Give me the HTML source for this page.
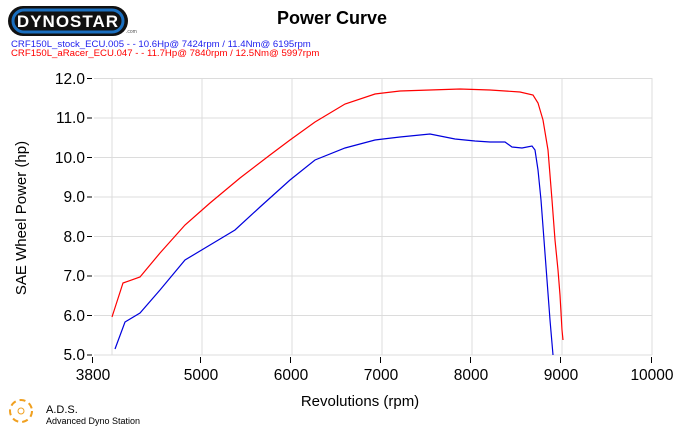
<!DOCTYPE html>
<html><head><style>
body{margin:0;width:685px;height:428px;background:#fff;overflow:hidden;font-family:"Liberation Sans",sans-serif}
</style></head><body>
<svg width="685" height="428" xmlns="http://www.w3.org/2000/svg" font-family="Liberation Sans, sans-serif">
<rect x="8" y="6" width="120" height="30" rx="15" fill="#111"/>
<rect x="13" y="10" width="110" height="22" rx="11" fill="none" stroke="#1a6fc0" stroke-width="3"/>
<text x="68" y="27" font-size="17" font-weight="bold" fill="#fff" text-anchor="middle" letter-spacing="1">DYNOSTAR</text>
<text x="126" y="33" font-size="5" fill="#555">.com</text>
<text x="332" y="24" font-size="18" font-weight="bold" text-anchor="middle" fill="#000">Power Curve</text>
<text x="11" y="47" font-size="9.6" fill="#2222ee">CRF150L_stock_ECU.005 -  - 10.6Hp@ 7424rpm / 11.4Nm@ 6195rpm</text>
<text x="11" y="56" font-size="9.6" fill="#ff0000">CRF150L_aRacer_ECU.047 -  - 11.7Hp@ 7840rpm / 12.5Nm@ 5997rpm</text>
<g stroke="#dcdcdc" stroke-width="1">
<line x1="94" y1="78.5" x2="652" y2="78.5"/><line x1="94" y1="118" x2="652" y2="118"/><line x1="94" y1="157.5" x2="652" y2="157.5"/><line x1="94" y1="197" x2="652" y2="197"/><line x1="94" y1="236.5" x2="652" y2="236.5"/><line x1="94" y1="276" x2="652" y2="276"/><line x1="94" y1="315.5" x2="652" y2="315.5"/><line x1="94" y1="355" x2="652" y2="355"/>
<line x1="112" y1="78" x2="112" y2="355"/><line x1="202" y1="78" x2="202" y2="355"/><line x1="292" y1="78" x2="292" y2="355"/><line x1="382" y1="78" x2="382" y2="355"/><line x1="472" y1="78" x2="472" y2="355"/><line x1="562" y1="78" x2="562" y2="355"/><line x1="652" y1="78" x2="652" y2="355"/>
</g>
<g stroke="#000" stroke-width="1">
<line x1="87" y1="78.5" x2="92" y2="78.5"/><line x1="87" y1="118" x2="92" y2="118"/><line x1="87" y1="157.5" x2="92" y2="157.5"/><line x1="87" y1="197" x2="92" y2="197"/><line x1="87" y1="236.5" x2="92" y2="236.5"/><line x1="87" y1="276" x2="92" y2="276"/><line x1="87" y1="315.5" x2="92" y2="315.5"/><line x1="87" y1="355" x2="92" y2="355"/>
<line x1="92.5" y1="357" x2="92.5" y2="363"/><line x1="200.5" y1="357" x2="200.5" y2="363"/><line x1="290.5" y1="357" x2="290.5" y2="363"/><line x1="380.5" y1="357" x2="380.5" y2="363"/><line x1="470.5" y1="357" x2="470.5" y2="363"/><line x1="560.5" y1="357" x2="560.5" y2="363"/><line x1="651.5" y1="357" x2="651.5" y2="363"/>
</g>
<g font-size="15.5" fill="#000" text-anchor="end">
<text x="85" y="84">12.0</text><text x="85" y="123">11.0</text><text x="85" y="163">10.0</text><text x="85" y="202">9.0</text><text x="85" y="242">8.0</text><text x="85" y="281">7.0</text><text x="85" y="321">6.0</text><text x="85" y="360">5.0</text>
</g>
<g font-size="15.5" fill="#000" text-anchor="middle">
<text x="93" y="380">3800</text><text x="201" y="380">5000</text><text x="291" y="380">6000</text><text x="381" y="380">7000</text><text x="471" y="380">8000</text><text x="561" y="380">9000</text><text x="652" y="380">10000</text>
</g>
<text x="360" y="406" font-size="15" text-anchor="middle">Revolutions (rpm)</text>
<text transform="translate(26,218) rotate(-90)" font-size="15" text-anchor="middle">SAE Wheel Power (hp)</text>
<polyline fill="none" stroke="#ff0000" stroke-width="1.2" points="112,317 123,283 140,277 160,253 185,225 210,203 240,178 270,155 290,140 315,122 345,104 375,94 400,91 430,90 460,89 490,90 520,92 533,95 538,103 543,120 548,150 552,200 555,240 558,270 560,295 562,330 563,340"/>
<polyline fill="none" stroke="#0000dd" stroke-width="1.2" points="115,349 125,322 140,313 160,290 185,260 210,245 235,230 260,207 290,180 315,160 345,148 375,140 400,137 430,134 455,139 475,141 490,142 505,142 512,147 522,148 532,146 535,150 538,170 541,200 544,240 547,280 550,320 553,355"/>
<circle cx="21" cy="411" r="11" fill="none" stroke="#f0a020" stroke-width="2" stroke-dasharray="6 4"/>
<circle cx="21" cy="411" r="3" fill="none" stroke="#f0a020"/>
<text x="46" y="413" font-size="11">A.D.S.</text>
<text x="46" y="424" font-size="9">Advanced Dyno Station</text>
</svg>
</body></html>
